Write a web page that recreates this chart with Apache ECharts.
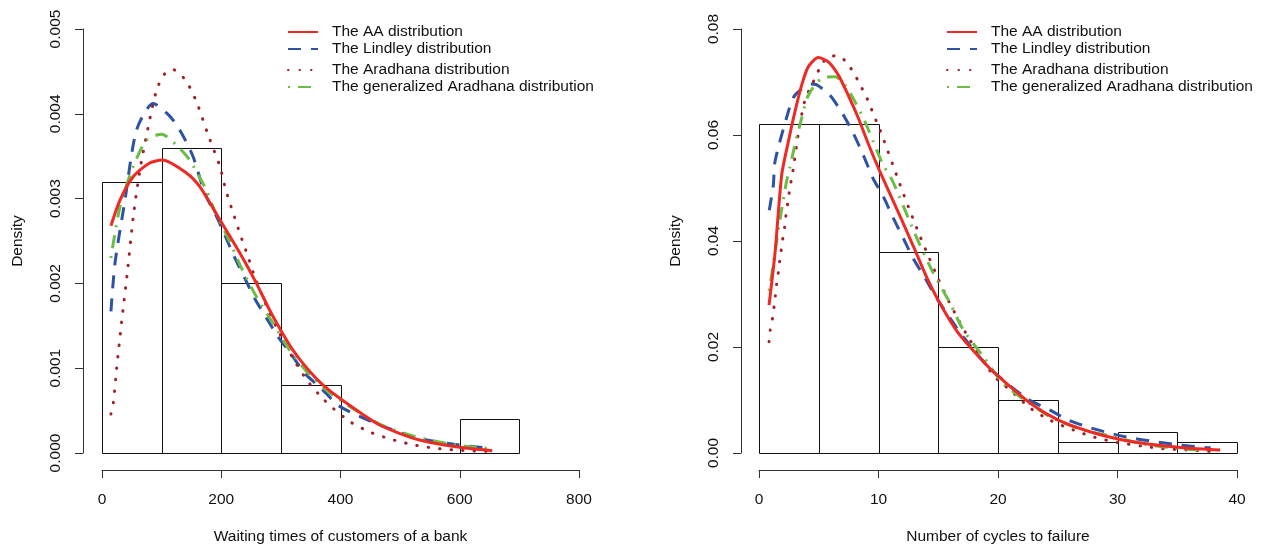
<!DOCTYPE html>
<html><head><meta charset="utf-8">
<script src="https://cdn.jsdelivr.net/npm/echarts@6/dist/echarts.min.js"></script>
<style>html,body{margin:0;padding:0;background:#fff}#c{width:1263px;height:545px}</style>
</head><body><div id="c"></div>
<script>
// ---------- DATA ----------
const seriesNames = ['The AA distribution','The Lindley distribution','The Aradhana distribution','The generalized Aradhana distribution'];

// Left panel histogram: [binStart, binEnd, density]
const leftHist = [[0,100,0.0032],[100,200,0.0036],[200,300,0.0020],[300,400,0.0008],[400,500,0],[500,600,0],[600,700,0.0004]];
const leftAA = [[15,0.00268],[30,0.00298],[52.5,0.00326],[80,0.00342],[101,0.003455],[142,0.0033],[164,0.00314],[197.7,0.00275],[231,0.00236],[259,0.0020],[281.5,0.00168],[298,0.00147],[320.5,0.00121],[348.5,0.00096],[370.8,0.00080],[398.7,0.000645],[465.7,0.00033],[532.7,0.000153],[599.7,0.000067],[654.5,0.000027]];
const leftLindley = [[15,0.00167],[21.8,0.00224],[38.5,0.00298],[58,0.00381],[86,0.00412],[114,0.00397],[133.5,0.00377],[153,0.00349],[172.6,0.00306],[192,0.00279],[206,0.00257],[222.8,0.0023],[239.6,0.00206],[256.3,0.00182],[276,0.00159],[295.4,0.00137],[317.8,0.00116],[340,0.00094],[368,0.00076],[398.7,0.00055],[465.7,0.00033],[532.7,0.00017],[599.7,0.000094],[654.5,0.000055]];
const leftAradhana = [[15,0.00046],[19,0.00059],[24.6,0.0010],[33,0.00155],[42.4,0.00212],[52.5,0.00279],[63.7,0.00334],[77.6,0.00385],[91.6,0.00428],[105,0.00447],[119.5,0.00452],[140.7,0.00439],[158.6,0.00414],[178,0.00375],[197.7,0.00338],[207.7,0.0031],[219.5,0.00284],[231.7,0.00258],[244.6,0.00232],[257.5,0.00205],[279.8,0.00167],[296.5,0.00143],[325,0.00106],[346.8,0.00083],[372,0.00063],[387.5,0.000527],[418,0.00036],[451.7,0.00024],[490.8,0.00015],[527,0.00009],[566,0.00005],[605,0.00003],[644.5,0.00002]];
const leftGenAradhana = [[15,0.0023],[30,0.0029],[52.5,0.00338],[75,0.00369],[100,0.00376],[125,0.00363],[147,0.003455],[175,0.0031],[189.3,0.00285],[214.4,0.00249],[234,0.00218],[259.2,0.00184],[287,0.00153],[315,0.00121],[348.5,0.00092],[387.5,0.00068],[465.7,0.00034],[532.7,0.00018],[599.7,0.00009],[654.5,0.00005]];

// Right panel histogram
const rightHist = [[0,5,0.062],[5,10,0.062],[10,15,0.038],[15,20,0.020],[20,25,0.010],[25,30,0.002],[30,35,0.004],[35,40,0.002]];
const rightAA = [[0.84,0.0279],[1.34,0.0377],[1.9,0.0525],[2.45,0.0587],[3.01,0.0644],[3.57,0.0694],[4.13,0.0729],[4.96,0.0746],[5.8,0.0738],[6.64,0.0713],[7.47,0.0675],[8.31,0.0632],[9.15,0.0583],[10.1,0.0532],[11.5,0.0462],[12.9,0.0391],[14.03,0.0332],[15.15,0.0282],[16.5,0.0232],[17.66,0.020],[19.3,0.016],[20.06,0.0144],[22.7,0.0094],[25.05,0.0062],[27.7,0.0040],[30.04,0.00264],[32.7,0.00164],[35.5,0.0010],[38.6,0.00057]];
const rightLindley = [[0.86,0.0458],[1.2,0.0506],[1.34,0.055],[2.3,0.0632],[3.0,0.0675],[4.41,0.0696],[4.8,0.0695],[5.94,0.0675],[7.05,0.0638],[7.9,0.0603],[8.73,0.0562],[9.57,0.0517],[10.4,0.0484],[11.24,0.0443],[12.08,0.0405],[12.9,0.0367],[13.9,0.033],[14.87,0.0292],[16,0.0254],[17.1,0.0219],[19.3,0.016],[22.4,0.0103],[24.35,0.0081],[25.75,0.00635],[27.7,0.00478],[29.65,0.00358],[31.3,0.00277],[33.3,0.00208],[35.2,0.00151],[37.2,0.00107],[37.8,0.0010]];
const rightAradhana = [[0.84,0.021],[0.93,0.0231],[1.12,0.0253],[1.26,0.0276],[1.37,0.0297],[1.48,0.0319],[1.62,0.0341],[1.73,0.0362],[1.87,0.0385],[2.0,0.0406],[2.15,0.0427],[2.26,0.0449],[2.4,0.0471],[2.54,0.0493],[2.7,0.0515],[2.87,0.0537],[3.15,0.0581],[3.43,0.0622],[3.85,0.0666],[4.27,0.0688],[4.69,0.0707],[5.1,0.0727],[5.66,0.0745],[6.58,0.075],[7.34,0.0737],[7.9,0.0718],[8.37,0.0699],[8.82,0.0679],[9.23,0.066],[9.57,0.0639],[9.98,0.0618],[10.3,0.0599],[11.66,0.0515],[12,0.0494],[12.7,0.0453],[13.4,0.0413],[14.17,0.0372],[14.95,0.0331],[15.76,0.0292],[16.63,0.0254],[17.6,0.0215],[19.6,0.0147],[21.3,0.0113],[22.8,0.0083],[24.35,0.0062],[26.3,0.00434],[28.1,0.00296],[30.07,0.00195],[32,0.00132],[33.8,0.00082],[35.8,0.00057],[37.7,0.00032]];
const rightGenAradhana = [[0.84,0.0306],[1.06,0.0336],[1.42,0.0392],[1.84,0.0452],[2.3,0.0512],[2.6,0.054],[3.0,0.0581],[3.57,0.0632],[4.13,0.0675],[5.24,0.0707],[6.36,0.071],[7.2,0.0694],[8.03,0.0663],[8.87,0.0625],[9.57,0.0587],[10.4,0.0543],[10.96,0.0523],[11.5,0.0497],[12.5,0.0443],[13.47,0.0392],[14.6,0.0339],[16,0.0282],[17.1,0.0232],[18.77,0.0182],[20.4,0.0132],[22.4,0.0097],[24.6,0.00654],[27.1,0.00434],[29.65,0.00308],[32.2,0.00164],[35,0.00088],[37.5,0.00044]];

const leftXTicks = {min:0, max:800, interval:200};
const leftYTicks = {min:0, max:0.005, interval:0.001, digits:3};
const rightXTicks = {min:0, max:40, interval:10};
const rightYTicks = {min:0, max:0.08, interval:0.02, digits:2};
const leftXLabel = 'Waiting times of customers of a bank';
const rightXLabel = 'Number of cycles to failure';
const yLabel = 'Density';

// ---------- STYLE ----------
const FONT = '"Liberation Sans", Arial, Helvetica, sans-serif';
const FS = 15.5;
const AX = '#333';
const styles = [
  {color:'#EE2A24', type:'solid', width:3, cap:'butt'},
  {color:'#2F53A3', type:[13,10], width:3, cap:'butt'},
  {color:'#A0202B', type:[0.5,11], width:3, cap:'round'},
  {color:'#6BBE45', type:[2,8,13,8], width:3, cap:'butt'}
];

const chart = echarts.init(document.getElementById('c'), null, {renderer:'canvas'});

const grids = [
  {left:102, top:29, width:477, height:424, outerBoundsMode:'none', containLabel:false},
  {left:759, top:29, width:478, height:424, outerBoundsMode:'none', containLabel:false}
];

function xAxis(i, t, name){
  return {type:'value', gridIndex:i, min:t.min, max:t.max, interval:t.interval, offset:17,
    axisLine:{show:true, onZero:false, lineStyle:{color:AX, width:1}},
    axisTick:{show:true, length:8, lineStyle:{color:AX}},
    axisLabel:{color:'#111', fontFamily:FONT, fontSize:FS, margin:22},
    splitLine:{show:false},
    name:name, nameLocation:'middle', nameGap:59,
    nameTextStyle:{color:'#111', fontFamily:FONT, fontSize:FS}};
}
function yAxis(i, t){
  return {type:'value', gridIndex:i, min:t.min, max:t.max, interval:t.interval, offset:i===0?19:18,
    axisLine:{show:true, onZero:false, lineStyle:{color:AX, width:1}},
    axisTick:{show:true, length:8, lineStyle:{color:AX}},
    axisLabel:{color:'#111', fontFamily:FONT, fontSize:FS, margin:19, rotate:90,
      formatter:v=>Number(v).toFixed(t.digits)},
    splitLine:{show:false},
    name:yLabel, nameLocation:'middle', nameGap:57,
    nameTextStyle:{color:'#111', fontFamily:FONT, fontSize:FS}};
}

function histSeries(i, data){
  return {type:'custom', xAxisIndex:i, yAxisIndex:i, data:data, z:1, silent:true,
    encode:{x:[0,1], y:2},
    renderItem:function(params, api){
      const p0 = api.coord([api.value(0), api.value(2)]);
      const p1 = api.coord([api.value(1), 0]);
      return {type:'rect', shape:{x:Math.round(p0[0])+0.5, y:Math.round(p0[1])+0.5,
        width:Math.round(p1[0])-Math.round(p0[0]), height:Math.round(p1[1])-Math.round(p0[1])},
        style:{fill:'#fff', stroke:'#111', lineWidth:1}};
    }};
}
function lineSeries(i, k, data){
  const s = styles[k];
  return {type:'line', name:seriesNames[k], xAxisIndex:i, yAxisIndex:i, data:data,
    smooth:0.25, symbol:'none', showSymbol:false, z:2+ (k===0?10:k),
    lineStyle:{color:s.color, width:s.width, type:s.type, cap:s.cap},
    itemStyle:{color:s.color}};
}

const series = [histSeries(0,leftHist), histSeries(1,rightHist)];
const leftCurves = [leftAA,leftLindley,leftAradhana,leftGenAradhana];
const rightCurves = [rightAA,rightLindley,rightAradhana,rightGenAradhana];
[2,3,1,0].forEach(k=>{ series.push(lineSeries(0,k,leftCurves[k])); });
[2,3,1,0].forEach(k=>{ series.push(lineSeries(1,k,rightCurves[k])); });

const legendCenters = [32,49,70,87];
const legendLefts = [287,946];
const legends = [];
legendLefts.forEach(lx=>{
  seriesNames.forEach((n,k)=>{
    legends.push({data:[n], left:lx, top:legendCenters[k]-8, orient:'vertical', padding:0,
      itemWidth:30, itemHeight:14, selectedMode:false,
      itemStyle:{opacity:0},
      textStyle:{color:'#111', fontFamily:FONT, fontSize:FS, lineHeight:16, padding:[0,0,0,9]}});
  });
});

chart.setOption({
  animation:false,
  backgroundColor:'#fff',
  grid:grids,
  xAxis:[xAxis(0,leftXTicks,leftXLabel), xAxis(1,rightXTicks,rightXLabel)],
  yAxis:[yAxis(0,leftYTicks), yAxis(1,rightYTicks)],
  legend:legends,
  series:series
});
</script></body></html>
